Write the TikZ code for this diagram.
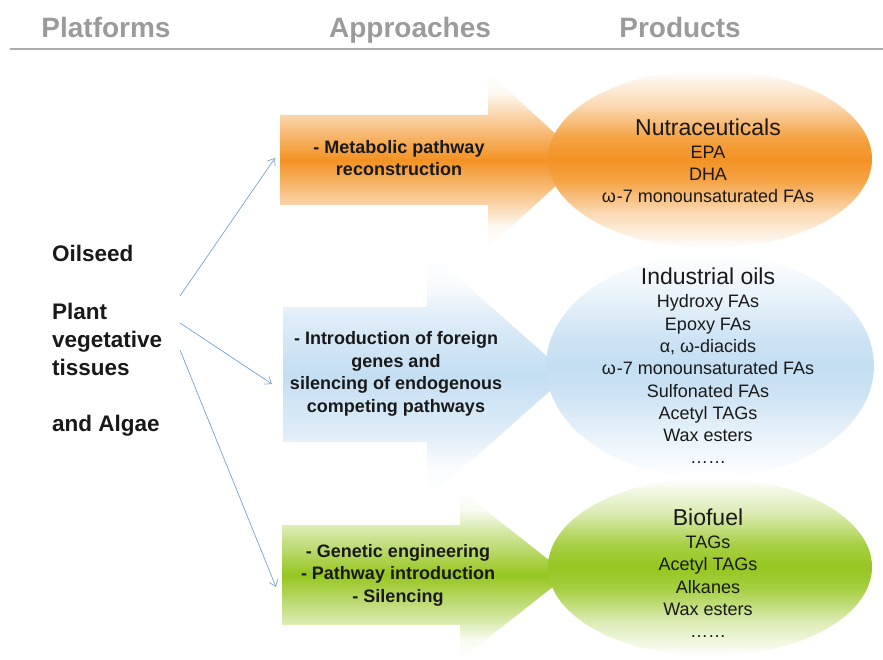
\documentclass[tikz,border=0pt]{standalone}
\usepackage{fontspec}
\setmainfont{Liberation Sans}
\usetikzlibrary{arrows.meta,positioning}

\definecolor{headgray}{RGB}{155,155,155}
\definecolor{rulegray}{RGB}{172,172,172}
\definecolor{linkblue}{RGB}{118,162,212}
\definecolor{nutraorange}{RGB}{243,146,35}
\definecolor{oilblue}{RGB}{196,222,242}
\definecolor{fuelgreen}{RGB}{150,198,32}

% colour bands, white at top and bottom (the path fills 25bp--75bp)
\pgfdeclareverticalshading{orangearrow}{100bp}{color(0bp)=(white); color(25bp)=(white); color(31bp)=(nutraorange!6); color(38bp)=(nutraorange!42); color(50bp)=(nutraorange); color(62bp)=(nutraorange!42); color(69bp)=(nutraorange!6); color(75bp)=(white); color(100bp)=(white)}
\pgfdeclareverticalshading{bluearrow}{100bp}{color(0bp)=(white); color(25bp)=(white); color(32bp)=(oilblue!10); color(38.5bp)=(oilblue!55); color(50bp)=(oilblue); color(61.5bp)=(oilblue!55); color(68bp)=(oilblue!10); color(75bp)=(white); color(100bp)=(white)}
\pgfdeclareverticalshading{greenarrow}{100bp}{color(0bp)=(white); color(25bp)=(white); color(31bp)=(fuelgreen!6); color(37bp)=(fuelgreen!40); color(50bp)=(fuelgreen); color(63bp)=(fuelgreen!40); color(69bp)=(fuelgreen!6); color(75bp)=(white); color(100bp)=(white)}
\pgfdeclareverticalshading{orangeband}{100bp}{color(0bp)=(white); color(25bp)=(white); color(35bp)=(nutraorange!35); color(44bp)=(nutraorange!85); color(50bp)=(nutraorange); color(56bp)=(nutraorange!85); color(65bp)=(nutraorange!35); color(75bp)=(white); color(100bp)=(white)}
\pgfdeclareverticalshading{blueband}{100bp}{color(0bp)=(white); color(25bp)=(white); color(35bp)=(oilblue!40); color(44bp)=(oilblue!85); color(50bp)=(oilblue); color(56bp)=(oilblue!85); color(65bp)=(oilblue!40); color(75bp)=(white); color(100bp)=(white)}
\pgfdeclareverticalshading{greenband}{100bp}{color(0bp)=(white); color(25bp)=(white); color(35bp)=(fuelgreen!35); color(44bp)=(fuelgreen!85); color(50bp)=(fuelgreen); color(56bp)=(fuelgreen!85); color(65bp)=(fuelgreen!35); color(75bp)=(white); color(100bp)=(white)}

\tikzset{
  header/.style={anchor=base, text=headgray, font=\bfseries\fontsize{28}{30}\selectfont},
  platform/.style={anchor=west, inner sep=0pt, align=left, text=black!90, font=\bfseries\fontsize{22.5}{28}\selectfont},
  approach/.style={align=center, text=black!90, font=\bfseries\fontsize{18}{22.5}\selectfont},
  prodtitle/.style={inner sep=0pt, text=black!90, font=\fontsize{23}{26}\selectfont},
  prodlist/.style={inner sep=0pt, align=center, text=black!90, font=\fontsize{18}{22.3}\selectfont},
  link/.style={draw=linkblue, line width=0.7pt, -{Straight Barb[length=6pt,width=9pt]}}
}

\begin{document}
\begin{tikzpicture}[x=1pt,y=-1pt]
	\useasboundingbox (0,0) rectangle (883,660);

	% column headers
	\node [header] (hplat) at (106,38) {Platforms};
	\node [header] (happr) at (410,38) {Approaches};
	\node [header] (hprod) at (680,38) {Products};
	\draw [rulegray, line width=1.6pt] (10,49) -- (883,49);

	% arrows and product ellipses
	\shade [shading=orangearrow] (280,115) -- (488,115) -- (488,72) -- (584,160) -- (488,248) -- (488,205) -- (280,205) -- cycle;
	\shade [shading=orangeband] (710,159) ellipse [x radius=162, y radius=89];
	\shade [shading=bluearrow] (283,307) -- (427,307) -- (427,250) -- (568,375) -- (427,500) -- (427,442) -- (283,442) -- cycle;
	\shade [shading=blueband] (710,366) ellipse [x radius=164, y radius=112];
	\shade [shading=greenarrow] (282,525) -- (460,525) -- (460,490) -- (568,575) -- (460,660) -- (460,625) -- (282,625) -- cycle;
	\shade [shading=greenband] (710,567) ellipse [x radius=162, y radius=89];

	% platforms
	\node [platform] (oilseed) at (52,253) {Oilseed};
	\node [platform] (plant) at (52,339) {Plant\\vegetative\\tissues};
	\node [platform] (algae) at (52,426) {and Algae};

	% approaches
	\node [approach] (metab) at (399,158) {- Metabolic pathway\\reconstruction};
	\node [approach] (foreign) at (396,374) {- Introduction of foreign\\genes and\\silencing of endogenous\\competing pathways};
	\node [approach] (genetic) at (398,575) {- Genetic engineering\\- Pathway introduction\\- Silencing};

	% products
	\node [prodtitle] (nutra) at (708,127) {Nutraceuticals};
	\node [prodlist, below=10pt of nutra] (nutralist) {EPA\\DHA\\ω\kern1pt-7 monounsaturated FAs};
	\node [prodtitle] (indus) at (708,276) {Industrial oils};
	\node [prodlist, below=10pt of indus] (induslist) {Hydroxy FAs\\Epoxy FAs\\α, ω-diacids\\ω\kern1pt-7 monounsaturated FAs\\Sulfonated FAs\\Acetyl TAGs\\Wax esters\\……};
	\node [prodtitle] (fuel) at (708,517) {Biofuel};
	\node [prodlist, below=10pt of fuel] (fuellist) {TAGs\\Acetyl TAGs\\Alkanes\\Wax esters\\……};

	% links from platforms to approaches
	\coordinate (src1) at (180,296);
	\coordinate (src2) at (180,323);
	\coordinate (src3) at (180,350);
	\coordinate (dst1) at (275,158);
	\coordinate (dst2) at (272,384);
	\coordinate (dst3) at (276,587);
	\draw [link] (src1) -- (dst1);
	\draw [link] (src2) -- (dst2);
	\draw [link] (src3) -- (dst3);
\end{tikzpicture}
\end{document}
